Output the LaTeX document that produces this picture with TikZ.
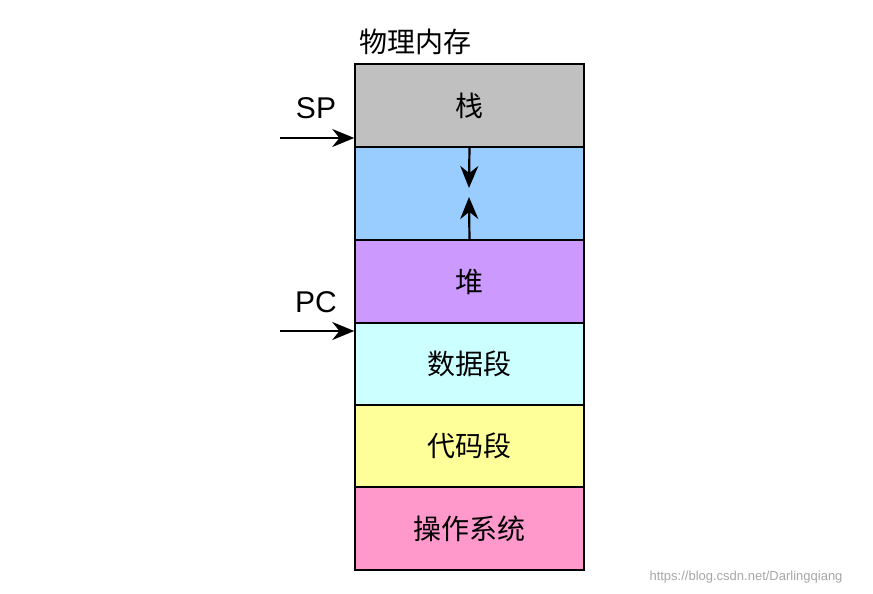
\documentclass[tikz,border=0pt]{standalone}
\usepackage{fontspec}
\setmainfont{Liberation Sans}
\newfontfamily\cjk{Noto Sans CJK SC}
\usetikzlibrary{arrows.meta}
\definecolor{cgray}{HTML}{C0C0C0}
\definecolor{cblue}{HTML}{99CCFF}
\definecolor{cpurple}{HTML}{CC99FF}
\definecolor{ccyan}{HTML}{CCFFFF}
\definecolor{cyellow}{HTML}{FFFF99}
\definecolor{cpink}{HTML}{FF99CC}
\begin{document}
\begin{tikzpicture}[x=1pt,y=-1pt,
  seg/.style={draw=black,line width=1.5pt,minimum width=229pt,inner sep=0pt,font=\cjk\fontsize{28}{30}\selectfont},
  ptr/.style={line width=2.2pt,-{Stealth[length=22pt,width=18pt]}},
  lbl/.style={font=\fontsize{30}{32}\selectfont}]
\useasboundingbox (0,0) rectangle (873,594);
\node[seg,fill=cgray,minimum height=83pt] (stack) at (469.5,105.5) {栈};
\node[seg,fill=cblue,minimum height=93pt] (gap) at (469.5,193.5) {};
\node[seg,fill=cpurple,minimum height=83pt] (heap) at (469.5,281.5) {堆};
\node[seg,fill=ccyan,minimum height=82pt] (data) at (469.5,364) {数据段};
\node[seg,fill=cyellow,minimum height=82pt] (code) at (469.5,446) {代码段};
\node[seg,fill=cpink,minimum height=83pt] (os) at (469.5,528.5) {操作系统};
\node[font=\cjk\fontsize{28}{30}\selectfont] (title) at (415,42) {物理内存};
\node[lbl] (sp) at (316,108) {SP};
\node[lbl] (pc) at (316,302) {PC};
\coordinate (sps) at (280,138);
\coordinate (pcs) at (280,331);
\draw[ptr] (sps) -- (sps -| stack.west);
\draw[ptr] (pcs) -- (pcs -| heap.west);
\coordinate (dn) at (469,188);
\coordinate (up) at (469,197);
\draw[ptr] (gap.north) -- (dn);
\draw[ptr] (gap.south) -- (up);
\node[text=gray!70,font=\fontsize{13}{15}\selectfont] (wm) at (746,577) {https://blog.csdn.net/Darlingqiang};
\end{tikzpicture}
\end{document}
